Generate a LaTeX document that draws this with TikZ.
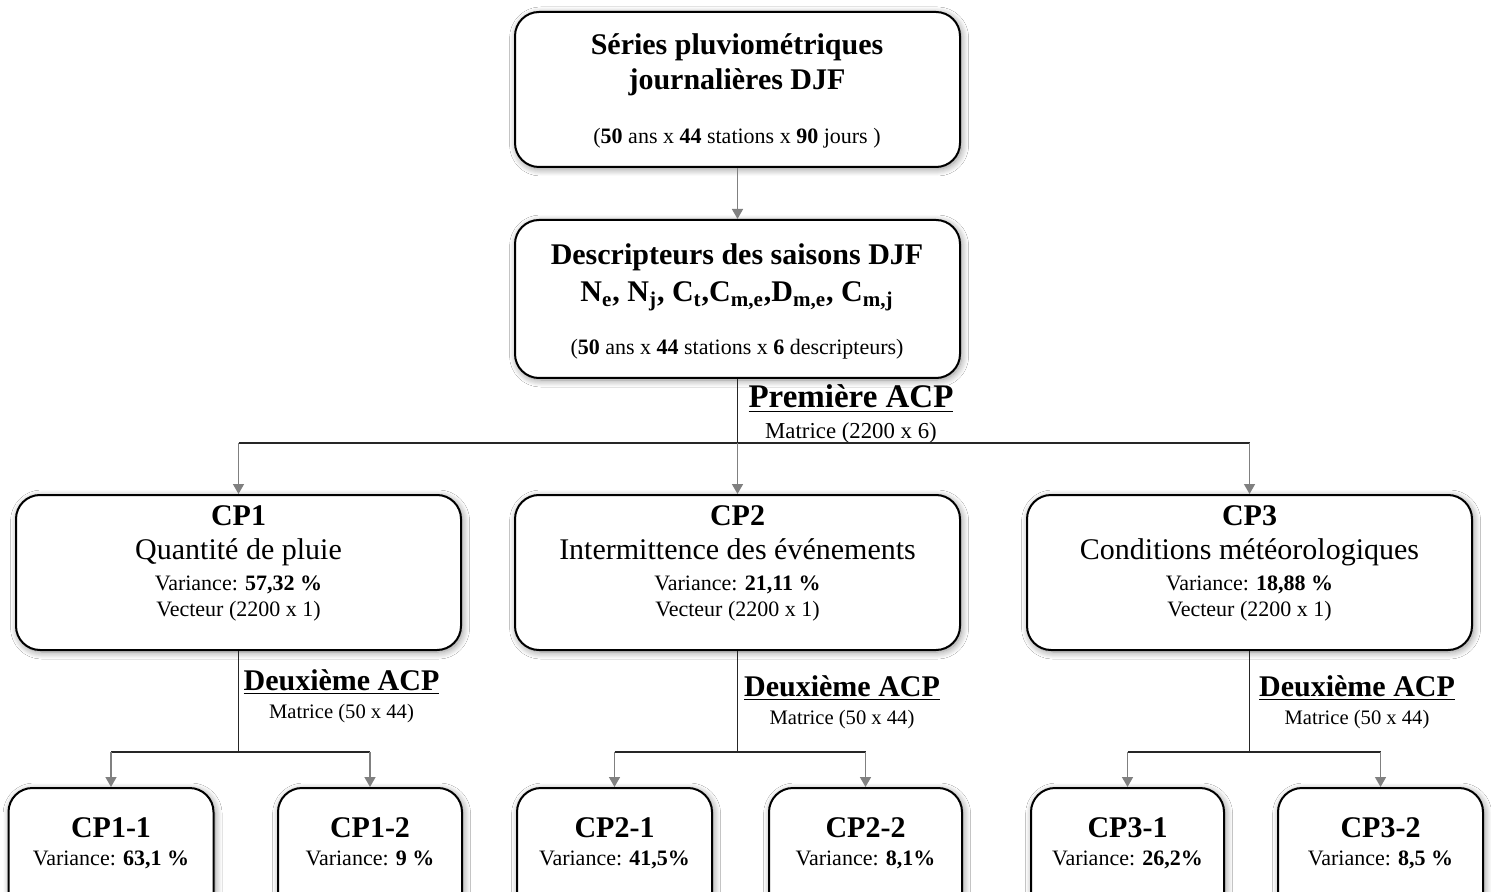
\documentclass[tikz,border=0pt]{standalone}
\usepackage{fontspec}
\setmainfont{Liberation Serif}
\usetikzlibrary{arrows.meta,positioning,shadows.blur}

\begin{document}
\begin{tikzpicture}[x=0.5pt,y=-0.5pt,
  boite/.style={draw,line width=1pt,rounded corners=12pt,fill=white,
    blur shadow={shadow xshift=0.8pt,shadow yshift=-1pt,shadow blur radius=3.5pt,shadow blur steps=10,shadow opacity=45},
    minimum width=222.5pt,minimum height=77.5pt,inner sep=0pt},
  fleche/.style={-{Triangle[width=5.5pt,length=5pt]},draw=gray,line width=0.75pt},
  ligne/.style={draw=black!85,line width=0.75pt},
  txt/.style={text height=0.72em,text depth=0.22em,yshift=-0.15em},
  titre/.style={txt,font=\fontsize{15}{17}\selectfont\bfseries},
  sous/.style={txt,font=\fontsize{15}{17}\selectfont},
  petit/.style={txt,font=\fontsize{11}{13}\selectfont},
  mat/.style={txt,font=\fontsize{10.3}{12}\selectfont}]
  % fond
  \fill[white] (0,0) rectangle (1491,892);
  \useasboundingbox (0,0) rectangle (1491,892);

  % Donnees de depart
  \node[boite] (serie) at (737.5,89.5) {};
  \node[titre] (serieA) at (737,47) {Séries pluviométriques};
  \node[titre] (serieB) at (737,82) {journalières DJF};
  \node[petit] (serieC) at (737,136) {(\textbf{50} ans x \textbf{44} stations x \textbf{90} jours )};

  \node[boite,minimum height=79pt] (desc) at (737.5,299) {};
  \node[titre] (descA) at (737,257) {Descripteurs des saisons DJF};
  \node[titre] (descB) at (737,294) {N\textsubscript{e}, N\textsubscript{j}, C\textsubscript{t},C\textsubscript{m,e},D\textsubscript{m,e}, C\textsubscript{m,j}};
  \node[petit] (descC) at (737,347) {(\textbf{50} ans x \textbf{44} stations x \textbf{6} descripteurs)};

  % Premiere ACP
  \node[txt,font=\fontsize{16.5}{18}\selectfont\bfseries] (acp) at (851,400) {\underline{Première ACP}};
  \node[mat,font=\fontsize{11.4}{13}\selectfont] (acpM) at (851,430) {Matrice (2200 x 6)};

  \node[boite] (cp1) at (238.5,572.5) {};
  \node[titre] (cp1A) at (238.5,517) {CP1};
  \node[sous] (cp1B) at (238.5,551) {Quantité de pluie};
  \node[petit] (cp1C) at (238.5,582) {Variance: \textbf{57,32 \%}};
  \node[petit] (cp1D) at (238.5,608) {Vecteur (2200 x 1)};

  \node[boite] (cp2) at (737.5,572.5) {};
  \node[titre] (cp2A) at (737.5,517) {CP2};
  \node[sous] (cp2B) at (737.5,551) {Intermittence des événements};
  \node[petit] (cp2C) at (737.5,582) {Variance: \textbf{21,11 \%}};
  \node[petit] (cp2D) at (737.5,608) {Vecteur (2200 x 1)};

  \node[boite] (cp3) at (1249.5,572.5) {};
  \node[titre] (cp3A) at (1249.5,517) {CP3};
  \node[sous] (cp3B) at (1249.5,551) {Conditions météorologiques};
  \node[petit] (cp3C) at (1249.5,582) {Variance: \textbf{18,88 \%}};
  \node[petit] (cp3D) at (1249.5,608) {Vecteur (2200 x 1)};

  % Deuxieme ACP
  \foreach \c/\x/\y in {1/341.5/682, 2/842/688, 3/1357/688} {
    \node[txt,font=\fontsize{15}{17}\selectfont\bfseries] (acp\c) at (\x,\y) {\underline{Deuxième ACP}};
    \node[mat] (acp\c M) at (\x,\y+28) {Matrice (50 x 44)};
  }

  % Sous-composantes
  \node[boite,minimum width=102.5pt,minimum height=70pt] (cp11) at (111,858) {};
  \node[boite,minimum width=92pt,minimum height=70pt] (cp12) at (370,858) {};
  \node[boite,minimum width=97.5pt,minimum height=70pt] (cp21) at (614.5,858) {};
  \node[boite,minimum width=96.5pt,minimum height=70pt] (cp22) at (865.5,858) {};
  \node[boite,minimum width=96.5pt,minimum height=70pt] (cp31) at (1127.5,858) {};
  \node[boite,minimum width=102.5pt,minimum height=70pt] (cp32) at (1380.5,858) {};

  \node[titre] (cp11A) at (111,829) {CP1-1};
  \node[petit] (cp11B) at (111,857) {Variance: \textbf{63,1 \%}};
  \node[titre] (cp12A) at (370,829) {CP1-2};
  \node[petit] (cp12B) at (370,857) {Variance: \textbf{9 \%}};
  \node[titre] (cp21A) at (614.5,829) {CP2-1};
  \node[petit] (cp21B) at (614.5,857) {Variance: \textbf{41,5\%}};
  \node[titre] (cp22A) at (865.5,829) {CP2-2};
  \node[petit] (cp22B) at (865.5,857) {Variance: \textbf{8,1\%}};
  \node[titre] (cp31A) at (1127.5,829) {CP3-1};
  \node[petit] (cp31B) at (1127.5,857) {Variance: \textbf{26,2\%}};
  \node[titre] (cp32A) at (1380.5,829) {CP3-2};
  \node[petit] (cp32B) at (1380.5,857) {Variance: \textbf{8,5 \%}};

  % Liaisons
  \coordinate (j0) at (737.5,443);
  \draw[fleche] (serie.south) -- (desc.north);
  \draw[ligne] (desc.south) -- (j0);
  \draw[ligne] (cp1.north |- j0) -- (cp3.north |- j0);
  \foreach \c in {cp1,cp2,cp3}
    \draw[fleche] (\c.north |- j0) -- (\c.north);

  \foreach \c in {1,2,3} {
    \coordinate (j\c) at ([yshift=-50.5pt]cp\c.south);
    \draw[ligne] (cp\c.south) -- (j\c);
    \draw[ligne] (cp\c1.north |- j\c) -- (cp\c2.north |- j\c);
    \draw[fleche] (cp\c1.north |- j\c) -- (cp\c1.north);
    \draw[fleche] (cp\c2.north |- j\c) -- (cp\c2.north);
  }
\end{tikzpicture}
\end{document}
